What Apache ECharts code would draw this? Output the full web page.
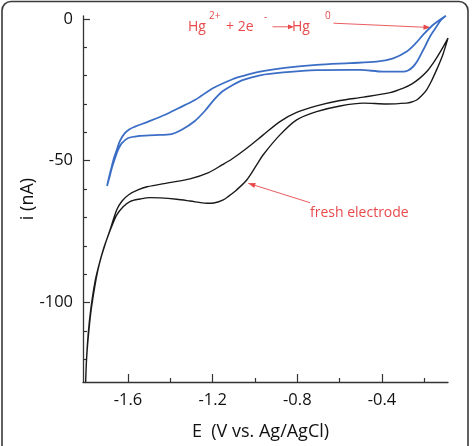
<!DOCTYPE html>
<html>
<head>
<meta charset="utf-8">
<script src="https://cdn.jsdelivr.net/npm/echarts@6/dist/echarts.min.js"></script>
<style>
html,body{margin:0;padding:0;background:#fff;}
#c{width:475px;height:446px;}
</style>
</head>
<body>
<div id="c"></div>
<script>
// ---- data (E in V vs Ag/AgCl, i in nA) ----
const blueUpperE = [-1.699,-1.687,-1.677,-1.666,-1.653,-1.638,-1.614,-1.591,-1.567,-1.504,-1.425,-1.362,-1.284,-1.197,-1.103,-1.055,-0.976,-0.850,-0.709,-0.551,-0.425,-0.347,-0.283,-0.239,-0.205,-0.158,-0.098];
const blueUpperI = [-58.9,-55.0,-52.1,-49.0,-46.2,-43.0,-40.2,-38.8,-38.0,-36.2,-33.8,-31.5,-28.6,-24.4,-21.2,-20.1,-18.6,-17.2,-16.2,-15.6,-15.1,-13.9,-11.5,-8.5,-5.6,-2.1,1.1];
const blueLowerE = [-0.121,-0.142,-0.173,-0.195,-0.213,-0.232,-0.252,-0.277,-0.299,-0.394,-0.504,-0.551,-0.709,-0.866,-0.976,-1.055,-1.107,-1.156,-1.198,-1.236,-1.284,-1.346,-1.394,-1.472,-1.551,-1.599,-1.630,-1.647,-1.661,-1.676,-1.687,-1.699];
const blueLowerI = [-0.4,-2.7,-6.2,-9.5,-12.1,-14.8,-16.8,-18.2,-18.6,-18.6,-18.0,-18.0,-18.1,-18.9,-19.9,-21.5,-23.4,-25.7,-28.9,-32.4,-36.0,-39.1,-40.6,-41.0,-41.3,-42.0,-43.9,-46.2,-49.0,-52.5,-55.7,-58.9];
const blackUpperE = [-1.800,-1.796,-1.789,-1.776,-1.757,-1.742,-1.726,-1.706,-1.685,-1.653,-1.628,-1.595,-1.553,-1.510,-1.411,-1.307,-1.222,-1.156,-1.109,-1.039,-0.961,-0.882,-0.803,-0.709,-0.598,-0.488,-0.362,-0.299,-0.258,-0.221,-0.187,-0.158,-0.133,-0.110,-0.088];
const blackUpperI = [-128.0,-120.2,-113.2,-103.7,-94.4,-88.5,-83.8,-79.0,-74.4,-67.3,-64.2,-61.9,-60.3,-59.2,-57.8,-56.4,-54.3,-51.5,-49.4,-45.6,-40.9,-36.2,-33.0,-30.7,-28.8,-27.6,-26.0,-24.4,-22.9,-20.9,-18.5,-15.6,-12.7,-9.8,-6.8];
const blackLowerE = [-0.110,-0.126,-0.142,-0.166,-0.189,-0.213,-0.236,-0.263,-0.283,-0.378,-0.488,-0.598,-0.709,-0.803,-0.882,-0.961,-0.992,-1.039,-1.087,-1.128,-1.150,-1.194,-1.228,-1.307,-1.370,-1.449,-1.496,-1.543,-1.591,-1.624,-1.653,-1.680,-1.701,-1.717,-1.737,-1.756,-1.775,-1.788,-1.796,-1.800];
const blackLowerI = [-12.1,-15.2,-18.0,-21.9,-25.0,-27.1,-28.6,-29.4,-29.7,-30.0,-29.7,-30.7,-32.7,-35.6,-40.9,-47.9,-51.5,-56.8,-60.3,-62.7,-63.8,-64.9,-65.0,-64.2,-63.6,-63.1,-63.0,-63.5,-64.4,-66.3,-69.1,-73.7,-77.9,-81.4,-86.7,-92.7,-101.9,-111.0,-120.2,-128.0];

const xMajorTicks = [-1.6,-1.2,-0.8,-0.4];
const xMinorTicks = [-1.4,-1.0,-0.6,-0.2];
const yMajorTicks = [0,-50,-100];
const yMinorTicks = [-10,-20,-30,-40,-60,-70,-80,-90,-110,-120];

function pairs(E, I){ return E.map((e,k)=>[e, I[k]]); }
const blueData = pairs(blueUpperE, blueUpperI).concat(pairs(blueLowerE, blueLowerI));
const blackData = pairs(blackUpperE, blackUpperI).concat(pairs(blackLowerE, blackLowerI));

const FONT = 'Open Sans';
const RED = '#e84a4c';
const AX = '#333';
const X_MIN = -1.8126, X_MAX = -0.088, Y_MIN = -128, Y_MAX = 1;
const GRID = {left:83, top:16, right:27, bottom:64, containLabel:false};

function head(x1,y1,x2,y2,len,w){
  const dx=x2-x1, dy=y2-y1, L=Math.hypot(dx,dy), ux=dx/L, uy=dy/L;
  const bx=x2-ux*len, by=y2-uy*len;
  return [[x2,y2],[bx-uy*w,by+ux*w],[bx+uy*w,by-ux*w]];
}
function arrow(x1,y1,x2,y2){
  return [
    {type:'line', shape:{x1,y1,x2,y2}, style:{stroke:RED, lineWidth:0.9}},
    {type:'polygon', shape:{points:head(x1,y1,x2,y2,7,2.6)}, style:{fill:RED}}
  ];
}
function txt(x,y,t,size){
  return {type:'text', x, y, style:{text:t, fill:RED, fontSize:size, fontFamily:FONT, verticalAlign:'middle', align:'left'}};
}

const chart = echarts.init(document.getElementById('c'), null, {renderer:'canvas'});

function xAx(grid, ticks, len, labels, extra){
  return Object.assign({
    type:'value', gridIndex:grid, min:X_MIN, max:X_MAX, position:'bottom',
    splitLine:{show:false},
    axisLine:{show:grid===0, onZero:false, lineStyle:{color:AX, width:1.3}},
    axisTick:{show:true, inside:true, length:len, lineStyle:{color:AX, width:1.2}, customValues:ticks},
    axisLabel:labels ? {show:true, customValues:ticks, margin:10, color:'#111', fontSize:16.5, fontFamily:FONT} : {show:false}
  }, extra||{});
}
function yAx(grid, ticks, len, labels, extra){
  return Object.assign({
    type:'value', gridIndex:grid, min:Y_MIN, max:Y_MAX, position:'left',
    splitLine:{show:false},
    axisLine:{show:grid===0, onZero:false, lineStyle:{color:AX, width:1.3}},
    axisTick:{show:true, inside:true, length:len, lineStyle:{color:AX, width:1.2}, customValues:ticks},
    axisLabel:labels ? {show:true, customValues:ticks, margin:10, color:'#111', fontSize:16.5, fontFamily:FONT} : {show:false}
  }, extra||{});
}

chart.setOption({
  animation:false,
  backgroundColor:'#fff',
  grid:[GRID, Object.assign({}, GRID)],
  xAxis:[
    xAx(0, xMajorTicks, 8, true, {
      name:'E  (V vs. Ag/AgCl)', nameLocation:'middle', nameGap:41, nameMoveOverlap:false,
      nameTextStyle:{color:'#111', fontSize:18, fontFamily:FONT, padding:[0,10,0,0]}
    }),
    xAx(1, xMinorTicks, 4, false)
  ],
  yAxis:[
    yAx(0, yMajorTicks, 7, true, {
      name:'i (nA)', nameLocation:'middle', nameGap:46, nameRotate:90, nameMoveOverlap:false,
      nameTextStyle:{color:'#111', fontSize:18, fontFamily:FONT}
    }),
    yAx(1, yMinorTicks, 4, false)
  ],
  series:[
    {type:'line', name:'black', data:blackData, xAxisIndex:0, yAxisIndex:0, showSymbol:false, smooth:0.3,
     lineStyle:{color:'#1a1a1a', width:1.4}, clip:true, z:2},
    {type:'line', name:'blue', data:blueData, xAxisIndex:0, yAxisIndex:0, showSymbol:false, smooth:0.3,
     lineStyle:{color:'#3c6ec6', width:1.8}, clip:true, z:3}
  ],
  graphic:[
    {type:'rect', shape:{x:2, y:1.5, width:466, height:470, r:9}, style:{fill:'none', stroke:'#3a3a3a', lineWidth:1.6}, z:-1, silent:true},
    txt(188,27,'Hg',14), txt(209,16.5,'2+',10), txt(226,27,'+ 2e',14), txt(264,17,'-',10),
    txt(292,27,'Hg',14), txt(325,16.5,'0',10),
    {type:'line', shape:{x1:272.5,y1:26.8,x2:292,y2:26.8}, style:{stroke:RED, lineWidth:0.9}},
    {type:'polygon', shape:{points:head(272.5,26.8,294,26.8,6,2.4)}, style:{fill:RED}},
    ...arrow(333.5,23.2,430.5,27.5),
    txt(310,213,'fresh electrode',14),
    ...arrow(310,202.7,248.3,183.3)
  ]
});
</script>
</body>
</html>
